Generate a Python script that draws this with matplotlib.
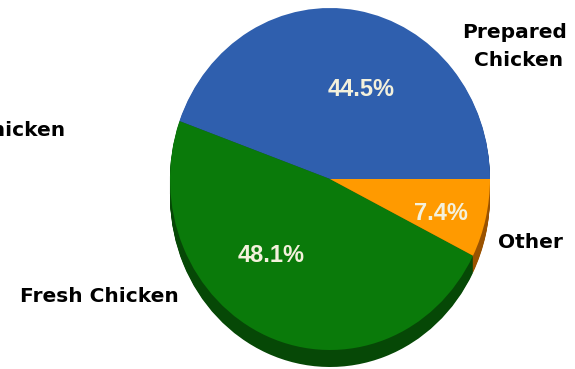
import matplotlib
matplotlib.use("Agg")
import matplotlib.pyplot as plt

# market share by product segment
segments = ["Prepared Chicken", "Fresh Chicken", "Other"]
shares = [44.5, 48.1, 7.4]
top_colors = ["#2F5FAE", "#0A7A0A", "#FF9A00"]
side_colors = ["#1C3C70", "#064806", "#9A5200"]

W, H = 575, 369
RX, RY = 160, 171          # pie radii in pixels (slightly taller than wide)
CX, CY = 330, 179          # pie centre in pixels
DEPTH = 17                 # thickness of the pie edge


def yd(py):
    # pixel row -> data y, with y scaled so the pie radius RX maps to RY pixels
    return (H - py) * RX / RY


fig = plt.figure(figsize=(W / 100, H / 100), dpi=100)
ax = fig.add_axes([0, 0, 1, 1])

# side wall: stack of darker pies shifted down
for d in range(DEPTH, 0, -1):
    ax.pie(shares, colors=side_colors, startangle=0, counterclock=True,
           radius=RX, center=(CX, yd(CY + d)), frame=True,
           wedgeprops=dict(linewidth=0))

# top face
ax.pie(shares, colors=top_colors, startangle=0, counterclock=True,
       radius=RX, center=(CX, yd(CY)), frame=True,
       wedgeprops=dict(linewidth=0))

ax.set_aspect("auto")
ax.set_xlim(0, W)
ax.set_ylim(0, yd(0))
ax.axis("off")

pct_font = dict(family="Liberation Sans", weight="bold",
                size=17, color="#F4F1DC", ha="center", va="center")
ax.text(361, yd(90), f"{shares[0]}%", **pct_font)
ax.text(271, yd(255), f"{shares[1]}%", **pct_font)
ax.text(441, yd(214), f"{shares[2]}%", **pct_font)

lab_font = dict(family="DejaVu Sans", weight="bold", size=14.5, color="black",
                va="center")
ax.text(515, yd(32), "Prepared", ha="center", **lab_font)
ax.text(519, yd(60), "Chicken", ha="center", **lab_font)
ax.text(498, yd(242), segments[2], ha="left", **lab_font)
ax.text(99, yd(297), segments[1], ha="center", **lab_font)
ax.text(65, yd(130), "Chicken", ha="right", **lab_font)

fig.savefig("out.png", dpi=100, facecolor="white")
